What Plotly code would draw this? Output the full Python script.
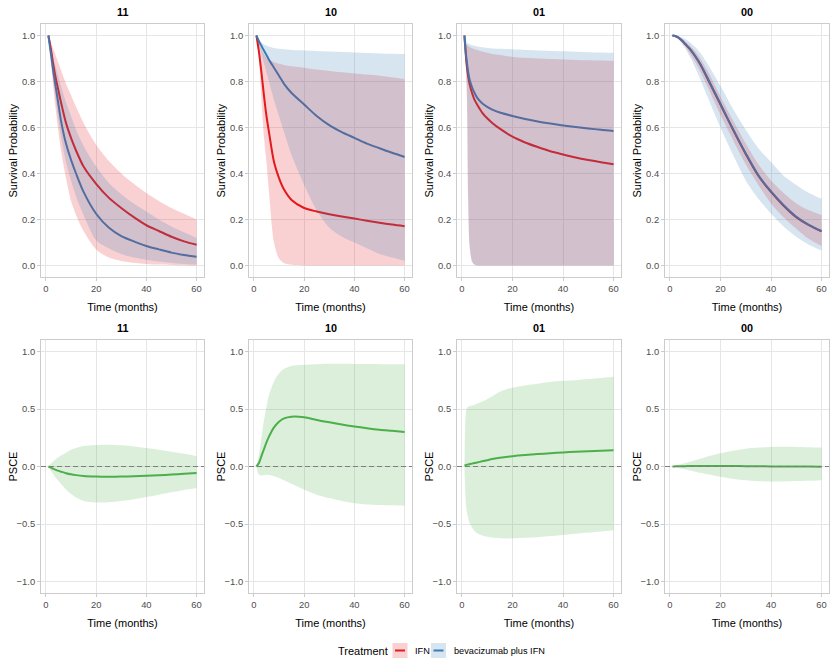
import plotly.graph_objects as go

# ---------------- data ----------------
panels = ["11", "10", "01", "00"]
treatments = ["IFN", "bevacizumab plus IFN"]
x_ticks = [0, 20, 40, 60]
surv_ticks = [0.0, 0.2, 0.4, 0.6, 0.8, 1.0]
psce_ticks = [-1.0, -0.5, 0.0, 0.5, 1.0]

T = [1, 2, 3, 4, 5, 6, 8, 10, 12, 15, 20, 25, 30, 35, 40, 45, 50, 55, 60]
T01 = [1, 1.5, 2, 2.5, 3, 4, 5, 6, 8, 10, 12, 15, 20, 25, 30, 35, 40, 45, 50, 55, 60]

# panel 11 survival
s11_ifn = [1.0, 0.94, 0.87, 0.81, 0.76, 0.71, 0.62, 0.555, 0.50, 0.43, 0.355, 0.295, 0.25, 0.21, 0.175, 0.15, 0.125, 0.105, 0.09]
s11_ifn_lo = [1.0, 0.88, 0.77, 0.67, 0.58, 0.50, 0.38, 0.28, 0.22, 0.15, 0.07, 0.035, 0.02, 0.012, 0.007, 0.004, 0.002, 0.001, 0.0]
s11_ifn_hi = [1.0, 0.97, 0.94, 0.91, 0.88, 0.85, 0.79, 0.74, 0.69, 0.62, 0.525, 0.455, 0.40, 0.355, 0.315, 0.28, 0.25, 0.225, 0.20]
s11_bev = [1.0, 0.92, 0.84, 0.77, 0.70, 0.63, 0.53, 0.46, 0.40, 0.32, 0.225, 0.165, 0.128, 0.105, 0.085, 0.07, 0.056, 0.046, 0.038]
s11_bev_lo = [1.0, 0.90, 0.80, 0.71, 0.63, 0.56, 0.45, 0.37, 0.30, 0.22, 0.11, 0.075, 0.05, 0.035, 0.025, 0.017, 0.011, 0.007, 0.004]
s11_bev_hi = [1.0, 0.95, 0.90, 0.86, 0.82, 0.78, 0.71, 0.65, 0.59, 0.52, 0.43, 0.36, 0.31, 0.27, 0.235, 0.20, 0.17, 0.145, 0.12]

# panel 10 survival
s10_ifn = [1.0, 0.93, 0.84, 0.74, 0.65, 0.58, 0.45, 0.38, 0.33, 0.285, 0.25, 0.235, 0.223, 0.213, 0.204, 0.195, 0.186, 0.178, 0.171]
s10_ifn_lo = [1.0, 0.90, 0.72, 0.56, 0.45, 0.32, 0.10, 0.03, 0.01, 0.003, 0.0, 0.0, 0.0, 0.0, 0.0, 0.0, 0.0, 0.0, 0.0]
s10_ifn_hi = [1.0, 0.97, 0.94, 0.92, 0.905, 0.895, 0.885, 0.877, 0.872, 0.866, 0.86, 0.852, 0.846, 0.84, 0.835, 0.83, 0.825, 0.818, 0.81]
s10_bev = [1.0, 0.975, 0.955, 0.935, 0.915, 0.895, 0.86, 0.825, 0.79, 0.75, 0.70, 0.65, 0.61, 0.58, 0.555, 0.53, 0.51, 0.49, 0.472]
s10_bev_lo = [1.0, 0.96, 0.92, 0.88, 0.84, 0.80, 0.72, 0.65, 0.58, 0.48, 0.35, 0.24, 0.165, 0.125, 0.10, 0.075, 0.05, 0.035, 0.02]
s10_bev_hi = [1.0, 0.985, 0.97, 0.962, 0.956, 0.951, 0.946, 0.942, 0.94, 0.937, 0.935, 0.933, 0.93, 0.928, 0.926, 0.924, 0.922, 0.921, 0.92]

# panel 01 survival (time grid T01)
s01_ifn = [1.0, 0.92, 0.86, 0.82, 0.79, 0.75, 0.72, 0.70, 0.665, 0.64, 0.62, 0.595, 0.56, 0.535, 0.515, 0.497, 0.483, 0.47, 0.459, 0.449, 0.44]
s01_ifn_lo = [1.0, 0.90, 0.75, 0.30, 0.10, 0.02, 0.004, 0.001, 0.0, 0.0, 0.0, 0.0, 0.0, 0.0, 0.0, 0.0, 0.0, 0.0, 0.0, 0.0, 0.0]
s01_ifn_hi = [1.0, 0.97, 0.96, 0.955, 0.95, 0.945, 0.94, 0.937, 0.93, 0.925, 0.92, 0.915, 0.907, 0.903, 0.90, 0.898, 0.896, 0.894, 0.892, 0.891, 0.89]
s01_bev = [1.0, 0.93, 0.88, 0.84, 0.81, 0.775, 0.75, 0.73, 0.705, 0.69, 0.678, 0.665, 0.65, 0.637, 0.626, 0.617, 0.609, 0.602, 0.596, 0.59, 0.585]
s01_bev_lo = [1.0, 0.88, 0.70, 0.26, 0.08, 0.015, 0.003, 0.0, 0.0, 0.0, 0.0, 0.0, 0.0, 0.0, 0.0, 0.0, 0.0, 0.0, 0.0, 0.0, 0.0]
s01_bev_hi = [1.0, 0.98, 0.97, 0.965, 0.962, 0.958, 0.955, 0.952, 0.949, 0.946, 0.944, 0.942, 0.94, 0.937, 0.935, 0.933, 0.931, 0.929, 0.927, 0.926, 0.925]

# panel 00 survival
s00_ifn = [1.0, 0.998, 0.993, 0.985, 0.975, 0.963, 0.94, 0.91, 0.875, 0.81, 0.70, 0.59, 0.485, 0.39, 0.32, 0.26, 0.21, 0.175, 0.148]
s00_ifn_lo = [1.0, 0.997, 0.99, 0.98, 0.968, 0.953, 0.92, 0.885, 0.845, 0.775, 0.655, 0.545, 0.44, 0.35, 0.27, 0.21, 0.16, 0.115, 0.085]
s00_ifn_hi = [1.0, 0.999, 0.996, 0.99, 0.983, 0.975, 0.955, 0.93, 0.90, 0.845, 0.735, 0.63, 0.53, 0.44, 0.37, 0.315, 0.27, 0.24, 0.22]
s00_bev = [1.0, 0.998, 0.994, 0.986, 0.976, 0.964, 0.941, 0.911, 0.876, 0.812, 0.702, 0.592, 0.487, 0.392, 0.322, 0.262, 0.212, 0.177, 0.15]
s00_bev_lo = [1.0, 0.995, 0.988, 0.975, 0.96, 0.945, 0.905, 0.86, 0.81, 0.73, 0.60, 0.48, 0.37, 0.29, 0.225, 0.17, 0.125, 0.09, 0.065]
s00_bev_hi = [1.0, 1.0, 0.998, 0.995, 0.99, 0.985, 0.97, 0.95, 0.925, 0.875, 0.78, 0.68, 0.59, 0.51, 0.45, 0.39, 0.35, 0.315, 0.29]

# PSCE
p11 = [0.0, -0.01, -0.02, -0.03, -0.038, -0.045, -0.058, -0.068, -0.075, -0.082, -0.087, -0.089, -0.088, -0.085, -0.081, -0.076, -0.07, -0.063, -0.057]
p11_lo = [0.0, -0.04, -0.07, -0.10, -0.125, -0.15, -0.20, -0.24, -0.27, -0.30, -0.313, -0.31, -0.30, -0.285, -0.265, -0.245, -0.225, -0.205, -0.188]
p11_hi = [0.0, 0.025, 0.045, 0.065, 0.08, 0.095, 0.12, 0.145, 0.16, 0.178, 0.188, 0.19, 0.185, 0.175, 0.16, 0.145, 0.128, 0.11, 0.09]

p10 = [0.0, 0.03, 0.09, 0.15, 0.21, 0.26, 0.34, 0.39, 0.418, 0.433, 0.428, 0.405, 0.385, 0.365, 0.348, 0.333, 0.32, 0.31, 0.30]
p10_lo = [0.0, -0.07, -0.08, -0.075, -0.072, -0.075, -0.085, -0.10, -0.12, -0.15, -0.20, -0.245, -0.275, -0.30, -0.32, -0.33, -0.335, -0.338, -0.34]
p10_hi = [0.0, 0.10, 0.25, 0.40, 0.52, 0.62, 0.74, 0.81, 0.85, 0.875, 0.885, 0.89, 0.893, 0.893, 0.892, 0.891, 0.89, 0.89, 0.89]

p01 = [0.01, 0.012, 0.015, 0.018, 0.02, 0.025, 0.03, 0.035, 0.045, 0.055, 0.065, 0.077, 0.09, 0.10, 0.108, 0.115, 0.122, 0.128, 0.133, 0.138, 0.142]
p01_lo = [0.0, -0.30, -0.40, -0.45, -0.49, -0.53, -0.56, -0.58, -0.60, -0.61, -0.617, -0.623, -0.625, -0.62, -0.615, -0.605, -0.595, -0.585, -0.575, -0.565, -0.555]
p01_hi = [0.0, 0.45, 0.51, 0.52, 0.525, 0.53, 0.535, 0.545, 0.565, 0.585, 0.61, 0.65, 0.685, 0.705, 0.72, 0.735, 0.745, 0.75, 0.76, 0.77, 0.78]

p00 = [0.0, 0.001, 0.002, 0.002, 0.003, 0.003, 0.004, 0.004, 0.005, 0.005, 0.005, 0.004, 0.003, 0.002, 0.001, 0.0, -0.001, -0.001, -0.002]
p00_lo = [0.0, -0.005, -0.01, -0.015, -0.02, -0.025, -0.035, -0.045, -0.055, -0.068, -0.09, -0.108, -0.12, -0.128, -0.131, -0.13, -0.127, -0.124, -0.12]
p00_hi = [0.0, 0.006, 0.012, 0.018, 0.024, 0.03, 0.042, 0.055, 0.068, 0.088, 0.115, 0.138, 0.155, 0.165, 0.17, 0.171, 0.17, 0.168, 0.165]

# ---------------- styling ----------------
W, H = 836, 664
RED, BLUE, GREEN = "#E41A1C", "#377EB8", "#4DAF4A"
FONT = "Liberation Sans, Arial, Helvetica, sans-serif"
col_px = [(41, 204), (249, 412), (457, 621), (665, 829)]
row_px = [(24, 277), (340, 593)]


def rgba(h, a):
    h = h.lstrip("#")
    return "rgba(%d,%d,%d,%s)" % (int(h[0:2], 16), int(h[2:4], 16), int(h[4:6], 16), a)


surv = [
    (T, s11_ifn, s11_ifn_lo, s11_ifn_hi, s11_bev, s11_bev_lo, s11_bev_hi),
    (T, s10_ifn, s10_ifn_lo, s10_ifn_hi, s10_bev, s10_bev_lo, s10_bev_hi),
    (T01, s01_ifn, s01_ifn_lo, s01_ifn_hi, s01_bev, s01_bev_lo, s01_bev_hi),
    (T, s00_ifn, s00_ifn_lo, s00_ifn_hi, s00_bev, s00_bev_lo, s00_bev_hi),
]
psce = [(T, p11, p11_lo, p11_hi), (T, p10, p10_lo, p10_hi), (T01, p01, p01_lo, p01_hi), (T, p00, p00_lo, p00_hi)]

fig = go.Figure()
SM = 0.8


def ax(n):
    return ("x" if n == 1 else "x%d" % n), ("y" if n == 1 else "y%d" % n)


def line(n, t, y, color):
    xa, ya = ax(n)
    fig.add_trace(go.Scatter(x=t, y=y, mode="lines", xaxis=xa, yaxis=ya,
                             line=dict(color=color, width=2, shape="spline", smoothing=SM),
                             hoverinfo="skip", showlegend=False))


def ribbon(n, t, lo, hi, color):
    xa, ya = ax(n)
    fig.add_trace(go.Scatter(x=t, y=lo, mode="lines", xaxis=xa, yaxis=ya,
                             line=dict(width=0, shape="spline", smoothing=SM),
                             hoverinfo="skip", showlegend=False))
    fig.add_trace(go.Scatter(x=t, y=hi, mode="lines", xaxis=xa, yaxis=ya, fill="tonexty",
                             fillcolor=rgba(color, 0.2),
                             line=dict(width=0, shape="spline", smoothing=SM),
                             hoverinfo="skip", showlegend=False))


for k, (t, a, alo, ahi, b, blo, bhi) in enumerate(surv):
    n = k + 1
    line(n, t, a, RED)
    line(n, t, b, BLUE)
    ribbon(n, t, alo, ahi, RED)
    ribbon(n, t, blo, bhi, BLUE)

for k, (t, p, plo, phi) in enumerate(psce):
    n = k + 5
    line(n, t, p, GREEN)
    ribbon(n, t, plo, phi, GREEN)

layout = dict(width=W, height=H, margin=dict(l=0, r=0, t=0, b=0),
              paper_bgcolor="white", plot_bgcolor="white", showlegend=False,
              font=dict(family=FONT, color="black"))
shapes = []
annotations = []

for r in range(2):
    for c in range(4):
        n = r * 4 + c + 1
        xk = "xaxis" if n == 1 else "xaxis%d" % n
        yk = "yaxis" if n == 1 else "yaxis%d" % n
        xa, ya = ax(n)
        x0, x1 = col_px[c]
        y0, y1 = row_px[r]
        common = dict(showgrid=True, gridcolor="#E6E6E6", gridwidth=1, zeroline=False,
                      showline=True, mirror=True, linecolor="#CCCCCC", linewidth=1,
                      ticks="outside", ticklen=3, tickcolor="#CCCCCC",
                      tickfont=dict(size=9.4, color="#4D4D4D", family=FONT))
        layout[xk] = dict(common, domain=[x0 / W, x1 / W], anchor=ya, range=[-1.95, 62.95],
                          tickvals=x_ticks, ticktext=[str(v) for v in x_ticks],
                          title=dict(text="Time (months)", font=dict(size=11, color="black"), standoff=10))
        if r == 0:
            layout[yk] = dict(common, domain=[1 - y1 / H, 1 - y0 / H], anchor=xa, range=[-0.05, 1.05],
                              tickvals=surv_ticks, tickformat=".1f")
            ytitle = "Survival Probability"
        else:
            layout[yk] = dict(common, domain=[1 - y1 / H, 1 - y0 / H], anchor=xa, range=[-1.1, 1.1],
                              tickvals=psce_ticks, tickformat=".1f")
            ytitle = "PSCE"
            shapes.append(dict(type="line", xref=xa + " domain", yref=ya, x0=0, x1=1, y0=0, y1=0,
                               line=dict(color="#7F7F7F", width=1, dash="5px,3px"), layer="above"))
        annotations.append(dict(text=ytitle, xref="paper", yref="paper", textangle=-90,
                                x=(x0 - 29) / W, y=1 - (y0 + y1) / 2 / H, xanchor="center", yanchor="middle",
                                showarrow=False, font=dict(size=11, color="black")))
        annotations.append(dict(text="<b>%s</b>" % panels[c], xref="paper", yref="paper",
                                x=(x0 + x1) / 2 / W, y=1 - (y0 - 12) / H, xanchor="center", yanchor="middle",
                                showarrow=False, font=dict(size=10.8, color="black")))

# legend (manual)
leg_y = 650.5
annotations.append(dict(text="Treatment", xref="paper", yref="paper", x=336 / W, y=1 - leg_y / H,
                        xanchor="left", yanchor="middle", showarrow=False, font=dict(size=11, color="black")))
keys = [(400, RED, treatments[0], 413), (438.5, BLUE, treatments[1], 452)]
for cx, col, lab, tx in keys:
    shapes.append(dict(type="rect", xref="paper", yref="paper", x0=(cx - 7.5) / W, x1=(cx + 7.5) / W,
                       y0=1 - (leg_y + 7.5) / H, y1=1 - (leg_y - 7.5) / H,
                       fillcolor=rgba(col, 0.2), line=dict(width=0)))
    shapes.append(dict(type="line", xref="paper", yref="paper", x0=(cx - 5) / W, x1=(cx + 5) / W,
                       y0=1 - leg_y / H, y1=1 - leg_y / H, line=dict(color=col, width=2)))
    annotations.append(dict(text=lab, xref="paper", yref="paper", x=tx / W, y=1 - leg_y / H,
                            xanchor="left", yanchor="middle", showarrow=False,
                            font=dict(size=9.2, color="black")))

layout["shapes"] = shapes
layout["annotations"] = annotations
fig.update_layout(**layout)
fig.write_html("out.html")
